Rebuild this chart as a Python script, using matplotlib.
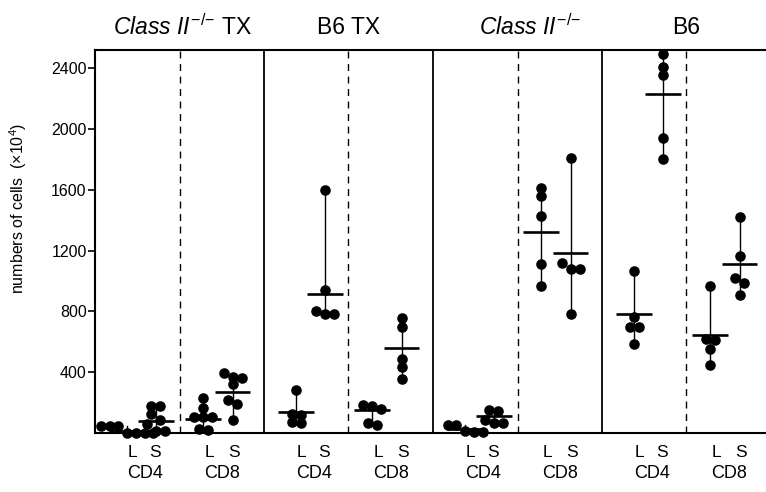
import numpy as np
import matplotlib
matplotlib.use('Agg')
import matplotlib.pyplot as plt

plt.rcParams['font.family'] = ['Liberation Sans', 'DejaVu Sans']
plt.rcParams['mathtext.fontset'] = 'custom'
plt.rcParams['mathtext.rm'] = 'Liberation Sans'
plt.rcParams['mathtext.it'] = 'Liberation Sans:italic'

# cells (x10^4); order of groups in each panel: L CD4, S CD4, L CD8, S CD8
panel_titles = [r'$\mathit{Class\ II}^{\mathit{{-}/{-}}}$ TX', 'B6 TX',
                r'$\mathit{Class\ II}^{\mathit{{-}/{-}}}$', 'B6']
cl2_tx = [[45, 45, 45, 2, 2, 2, 2],
          [180, 180, 125, 85, 60, 15, 15],
          [230, 165, 105, 105, 105, 25, 20],
          [395, 370, 360, 320, 215, 190, 85]]
b6_tx = [[280, 125, 120, 70, 65],
         [1600, 940, 800, 780, 780],
         [185, 180, 160, 65, 55],
         [755, 695, 490, 435, 355]]
cl2 = [[55, 50, 10, 8, 8],
       [150, 145, 85, 65, 65],
       [1615, 1560, 1425, 1115, 965],
       [1810, 1120, 1080, 1080, 785]]
b6 = [[1065, 760, 700, 700, 585],
      [2495, 2410, 2355, 1940, 1805],
      [965, 620, 615, 550, 445],
      [1420, 1165, 1020, 985, 910]]
cl2_tx_mean = [15, 82, 95, 272]
b6_tx_mean = [140, 913, 150, 557]
cl2_mean = [25, 115, 1321, 1187]
b6_mean = [781, 2230, 645, 1113]

organ_labels = ['L', 'S', 'L', 'S']
cell_labels = ['CD4', 'CD8']
yticks = [400, 800, 1200, 1600, 2000, 2400]

panels = [cl2_tx, b6_tx, cl2, b6]
means = [cl2_tx_mean, b6_tx_mean, cl2_mean, b6_mean]

group_off = [0.19, 0.36, 0.64, 0.815]
label_off = [0.22, 0.355, 0.68, 0.82]
cell_off = [0.295, 0.75]
title_off = [0.52, 0.5, 0.575, 0.5]


def swarm(vals, thresh=50, step=0.052):
    # spread points with near-equal values side by side
    vals = sorted(vals, reverse=True)
    xs, ys = [], []
    i = 0
    while i < len(vals):
        j = i
        while j + 1 < len(vals) and vals[i] - vals[j + 1] < thresh:
            j += 1
        n = j - i + 1
        for k in range(n):
            xs.append((k - (n - 1) / 2) * step)
            ys.append(vals[i + k])
        i = j + 1
    return np.array(xs), np.array(ys)


fig = plt.figure(figsize=(7.66, 4.92), dpi=100)
ax = fig.add_axes([95 / 766, 59 / 492, 676 / 766, 383 / 492])

for p, (data, mu) in enumerate(zip(panels, means)):
    for g, vals in enumerate(data):
        xc = p + group_off[g]
        ax.plot([xc, xc], [min(vals), max(vals)], color='black', lw=1.0,
                zorder=2, clip_on=False)
        dx, yy = swarm(vals)
        ax.plot(xc + dx, yy, 'o', color='black', ms=6.6, zorder=3,
                clip_on=False)
        ax.plot([xc - 0.105, xc + 0.105], [mu[g], mu[g]], color='black',
                lw=1.9, zorder=4, solid_capstyle='butt', clip_on=False)
    if p > 0:
        ax.axvline(p, color='black', lw=1.3)
    ax.axvline(p + 0.5, color='black', lw=1.0, dashes=(5, 4))
    trans = ax.get_xaxis_transform()
    for g in range(4):
        ax.text(p + label_off[g], -0.052, organ_labels[g], transform=trans,
                ha='center', va='center', fontsize=12.5)
    for c in range(2):
        ax.text(p + cell_off[c], -0.107, cell_labels[c], transform=trans,
                ha='center', va='center', fontsize=13)
    ax.text(p + title_off[p], 1.06, panel_titles[p], transform=trans,
            ha='center', va='center', fontsize=16.5)

ax.set_xlim(0, 4)
ax.set_ylim(0, 2520)
ax.set_yticks(yticks)
ax.set_yticklabels([str(t) for t in yticks], fontsize=11.5)
ax.tick_params(axis='y', direction='out', length=5, width=1.2, pad=1)
ax.set_xticks([])
for s in ax.spines.values():
    s.set_linewidth(1.5)
ax.set_ylabel(r'numbers of cells  ($\times$10$^4$)', fontsize=11.5)
ax.yaxis.set_label_coords(-0.097, 0.587)

fig.savefig('out.png', dpi=100)
